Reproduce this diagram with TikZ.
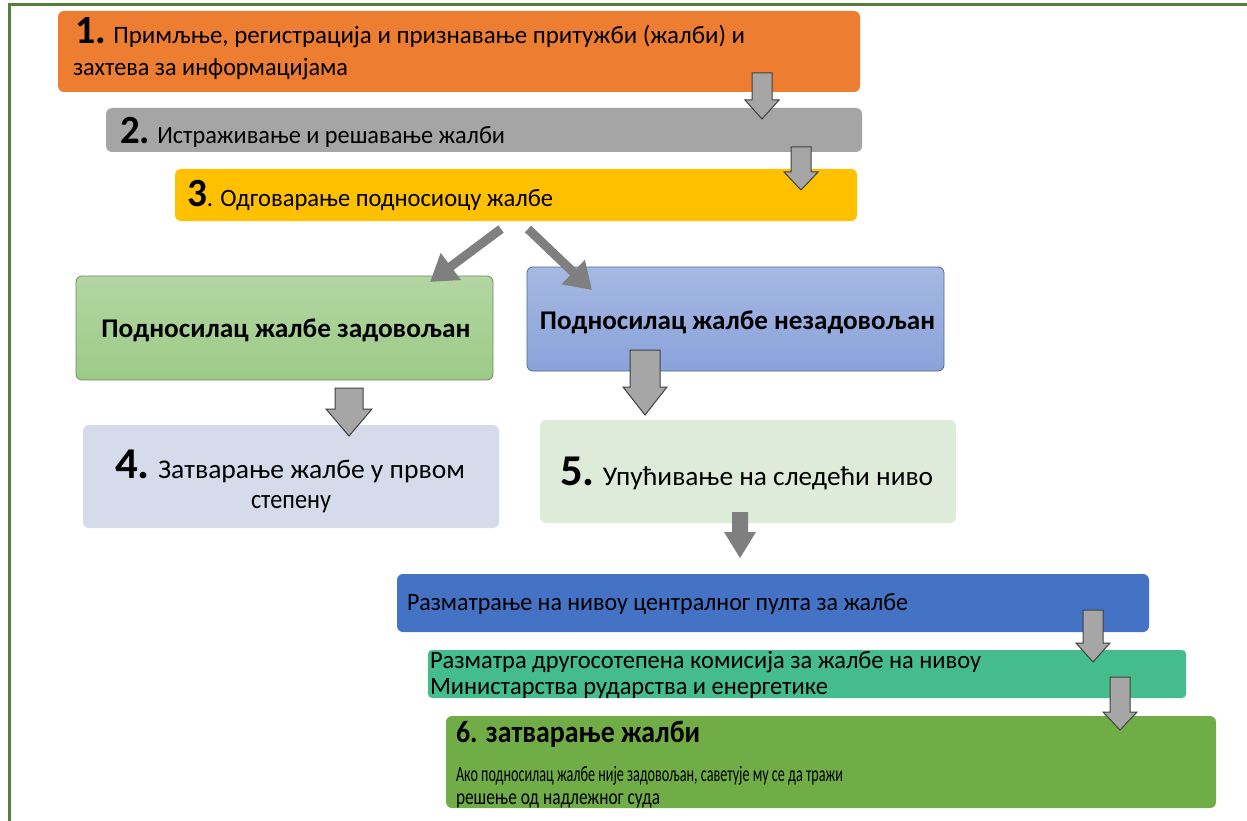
\documentclass[tikz,border=0pt]{standalone}
\usepackage{fontspec}
\setmainfont{Carlito}
\usepackage{graphicx}
\usetikzlibrary{arrows.meta}
\definecolor{cOrange}{HTML}{ED7D31}
\definecolor{cGray}{HTML}{A5A5A5}
\definecolor{cYellow}{HTML}{FFC000}
\definecolor{cFrame}{HTML}{538135}
\definecolor{cGreenT}{HTML}{B3D6A3}
\definecolor{cGreenB}{HTML}{9CCB86}
\definecolor{cGreenD}{HTML}{6E8A62}
\definecolor{cBlueT}{HTML}{A6B8E3}
\definecolor{cBlueB}{HTML}{8AA3DA}
\definecolor{cBlueD}{HTML}{55658A}
\definecolor{cLav}{HTML}{D5DBEA}
\definecolor{cMint}{HTML}{DEEBD8}
\definecolor{cBar}{HTML}{4472C4}
\definecolor{cTeal}{HTML}{45BC8D}
\definecolor{cLeaf}{HTML}{70AD47}
\definecolor{cArrF}{HTML}{A6A6A6}
\definecolor{cArrD}{HTML}{404040}
\definecolor{cArrS}{HTML}{7F7F7F}
\newcommand\fw[2]{\resizebox{#1pt}{\height}{#2}}
\newcommand\fs[1]{\fontsize{#1}{#1}\selectfont}
\newcommand\downarr[7]{% style, cx, top, shaft hw, head hw, head start, tip
  \path[#1] (#2-#4,#3) -- (#2+#4,#3) -- (#2+#4,#6) -- (#2+#5,#6) -- (#2,#7)
     -- (#2-#5,#6) -- (#2-#4,#6) -- cycle;}
\tikzset{
  box/.style={rounded corners=6pt, inner sep=0pt, outer sep=0pt, draw=none},
  txt/.style={anchor=base west, inner sep=0pt, outer sep=0pt, text=black},
  ctxt/.style={anchor=base, inner sep=0pt, outer sep=0pt, text=black},
  blockarr/.style={fill=cArrF, draw=cArrD, line width=1pt, line join=miter},
  solidarr/.style={fill=cArrS, draw=none},
  bigarr/.style={draw=cArrS, line width=9pt, -{Triangle[length=26pt,width=32pt]}},
}
\begin{document}
\begin{tikzpicture}[x=1pt,y=-1pt]
\useasboundingbox (0,0) rectangle (1247,821);
\fill[white] (0,0) rectangle (1247,821);
% frame
\draw[cFrame, line width=3pt] (9,821) -- (9,5) -- (1247,5);

% boxes
\path[box, fill=cOrange] (58,11) rectangle (860,92);
\node[inner sep=0] (b1) at (459,51.5) {};
\path[box, fill=cGray] (106,108) rectangle (862,152);
\node[inner sep=0] (b2) at (484,130) {};
\path[box, fill=cYellow] (175,169) rectangle (857,221);
\node[inner sep=0] (b3) at (516,195) {};
\path[box, top color=cGreenT, bottom color=cGreenB, draw=cGreenD, line width=0.8pt] (76,276) rectangle (493,380);
\node[inner sep=0] (g) at (284.5,328) {};
\path[box, top color=cBlueT, bottom color=cBlueB, draw=cBlueD, line width=0.8pt] (527,267) rectangle (944,371);
\node[inner sep=0] (n) at (735.5,319) {};
\path[box, fill=cLav] (83,425) rectangle (499,528);
\node[inner sep=0] (b4) at (291,476.5) {};
\path[box, fill=cMint] (540,420) rectangle (956,523);
\node[inner sep=0] (b5) at (748,471.5) {};
\path[box, fill=cBar] (397,574) rectangle (1149,632);
\node[inner sep=0] (c1) at (773,603) {};
\path[box, fill=cTeal, rounded corners=4pt] (428,650) rectangle (1186,698);
\node[inner sep=0] (c2) at (807,674) {};
\path[box, fill=cLeaf] (446,716) rectangle (1216,808);
\node[inner sep=0] (b6) at (831,762) {};

% texts
\node[txt] (t1a) at (75,44) {\fw{670}{{\fs{40}\bfseries 1.}\fs{25} Примљње, регистрација и признавање притужби (жалби) и}};
\node[txt] (t1b) at (73,76) {\fw{275}{\fs{25}захтева за информацијама}};
\node[txt] (t2) at (120,144) {\fw{385}{{\fs{40}\bfseries 2.}\fs{25} Истраживање и решавање жалби}};
\node[txt] (t3) at (187,207) {\fw{366}{{\fs{40}\bfseries 3}\fs{25}. Одговарање подносиоцу жалбе}};
\node[ctxt] (tg) at (286,337) {\fw{369}{\fs{27}\bfseries Подносилац жалбе задовољан}};
\node[ctxt] (tn) at (737.5,329) {\fw{395}{\fs{27}\bfseries Подносилац жалбе незадовољан}};
\node[txt] (t4a) at (115,478) {\fw{350}{{\fs{44}\bfseries 4.}\fs{27} Затварање жалбе у првом}};
\node[ctxt] (t4b) at (291,508) {\fw{80}{\fs{27}степену}};
\node[txt] (t5) at (560,485) {\fw{373}{{\fs{44}\bfseries 5.}\fs{27} Упућивање на следећи ниво}};
\node[txt] (tc1) at (407,610) {\fw{501}{\fs{25}Разматрање на нивоу централног пулта за жалбе}};
\node[txt] (tc2a) at (430,668) {\fw{551}{\fs{25}Разматра другосотепена комисија за жалбе на нивоу}};
\node[txt] (tc2b) at (430,694) {\fw{398}{\fs{25}Министарства рударства и енергетике}};
\node[txt] (t6a) at (456,742) {\fw{244}{\fs{31}\bfseries 6. затварање жалби}};
\node[txt] (t6b) at (456,781) {\fw{387}{\fs{22}Ако подносилац жалбе није задовољан, саветује му се да тражи}};
\node[txt] (t6c) at (456,804) {\fw{204}{\fs{22}решење од надлежног суда}};

% block arrows
\downarr{blockarr}{762}{73}{10}{17}{100}{119}
\downarr{blockarr}{801}{147}{10}{17}{172}{190}
\downarr{blockarr}{349}{388}{14}{23}{409}{436}
\downarr{blockarr}{645}{350}{15}{22}{387}{415}
\downarr{solidarr}{740}{512}{8}{16}{532}{558}
\downarr{blockarr}{1093}{610}{10}{17}{643}{662}
\downarr{blockarr}{1120}{677}{10}{17}{712}{730}

% diagonal arrows
\coordinate (dl) at (501,229);
\coordinate (dlt) at (430,282);
\coordinate (dr) at (528,229);
\coordinate (drt) at (592,290);
\draw[bigarr] (dl) -- (dlt);
\draw[bigarr] (dr) -- (drt);
\end{tikzpicture}
\end{document}
